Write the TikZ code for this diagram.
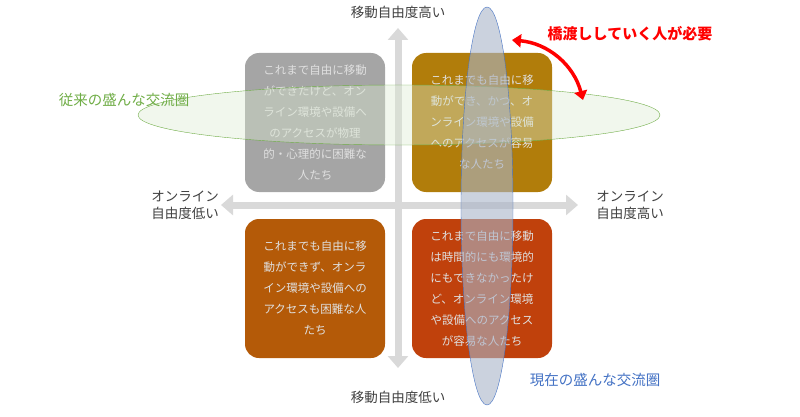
\documentclass[tikz,border=0pt]{standalone}
\usepackage{fontspec}
\newfontfamily\cjk{Noto Sans CJK JP}
\usetikzlibrary{arrows.meta,shapes.geometric}
\definecolor{qgray}{HTML}{A5A5A5}
\definecolor{qgold}{HTML}{B17D0B}
\definecolor{qorange}{HTML}{B45A08}
\definecolor{qred}{HTML}{C0410C}
\definecolor{axisc}{HTML}{D9D9D9}
\definecolor{gline}{HTML}{70AD47}
\definecolor{bline}{HTML}{4472C4}
\definecolor{bfill}{HTML}{A9B4C8}
\tikzset{quad/.style={rounded corners=14pt,minimum width=140pt,minimum height=139pt,align=center,font=\cjk\fontsize{11.5}{21}\selectfont,text=white!88!black,inner sep=0pt},
lbl/.style={font=\cjk\fontsize{13.5}{17}\selectfont,text=black!75,align=center}}
\begin{document}
\begin{tikzpicture}[x=1pt,y=-1pt]
\useasboundingbox (0,0) rectangle (800,417);
\coordinate (t) at (398,28); \coordinate (b) at (398,368);
\coordinate (l) at (221,205); \coordinate (r) at (578,205);
\draw[axisc,line width=7pt,-{Triangle[length=12pt,width=20pt]}] (398,205) -- (t);
\draw[axisc,line width=7pt,-{Triangle[length=12pt,width=20pt]}] (398,205) -- (b);
\draw[axisc,line width=7pt,-{Triangle[length=12pt,width=20pt]}] (398,205) -- (l);
\draw[axisc,line width=7pt,-{Triangle[length=12pt,width=20pt]}] (398,205) -- (r);
\node[quad,fill=qgray] (q1) at (315,122.5) {これまで自由に移動\\ができたけど、オン\\ライン環境や設備へ\\のアクセスが物理\\的・心理的に困難な\\人たち};
\node[quad,fill=qgold] (q2) at (482,122.5) {これまでも自由に移\\動ができ、かつ、オ\\ンライン環境や設備\\へのアクセスが容易\\な人たち};
\node[quad,fill=qorange] (q3) at (315,288.5) {これまでも自由に移\\動ができず、オンラ\\イン環境や設備への\\アクセスも困難な人\\たち};
\node[quad,fill=qred] (q4) at (482,288.5) {これまで自由に移動\\は時間的にも環境的\\にもできなかったけ\\ど、オンライン環境\\や設備へのアクセス\\が容易な人たち};
\node[ellipse,draw=gline,fill=gline!25,fill opacity=0.4,minimum width=522pt,minimum height=60pt,inner sep=0pt] (ge) at (399,115) {};
\node[ellipse,draw=bline,fill=bfill,fill opacity=0.6,minimum width=52pt,minimum height=398pt,inner sep=0pt] (be) at (487,206) {};
\node[lbl] (top) at (398,12) {移動自由度高い};
\node[lbl] (bot) at (398,397) {移動自由度低い};
\node[lbl] (lft) at (185,205) {オンライン\\自由度低い};
\node[lbl] (rgt) at (630,205) {オンライン\\自由度高い};
\node[font=\cjk\bfseries\fontsize{15}{18}\selectfont,text=red] (br) at (630,34) {橋渡ししていく人が必要};
\node[font=\cjk\fontsize{14.5}{18}\selectfont,text=gline] (old) at (124,100) {従来の盛んな交流圏};
\node[font=\cjk\fontsize{14.5}{18}\selectfont,text=bline] (new) at (595,380) {現在の盛んな交流圏};
\coordinate (a1) at (512,40); \coordinate (a2) at (583,100);
\draw[red,line width=3.5pt,{Triangle[length=9pt,width=13pt]}-{Triangle[length=9pt,width=13pt]}] (a1) to[bend left=35] (a2);
\end{tikzpicture}
\end{document}
